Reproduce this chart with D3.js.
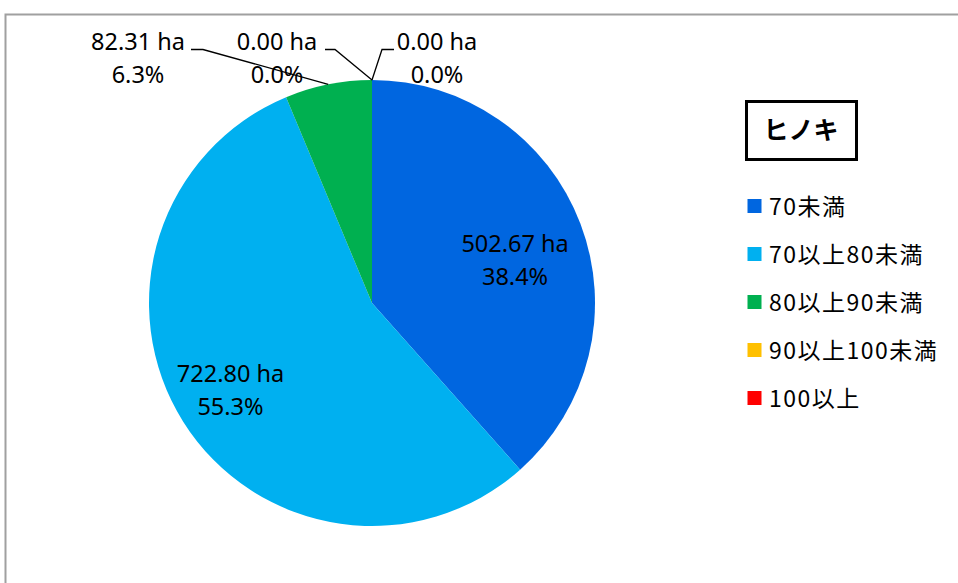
<!DOCTYPE html>
<html>
<head>
<meta charset="utf-8">
<script src="https://cdn.jsdelivr.net/npm/d3@7"></script>
<style>
  html, body { margin: 0; padding: 0; background: #fff; }
  svg { display: block; font-family: "Noto Sans", "Noto Sans CJK JP", sans-serif; }
</style>
</head>
<body>
<svg id="chart" width="958" height="583"></svg>
<script>
// Stand area of ヒノキ by class (ha)
const title = "ヒノキ";
const categories = ["70未満", "70以上80未満", "80以上90未満", "90以上100未満", "100以上"];
const areas = [502.67, 722.80, 82.31, 0.00, 0.00];
const colors = ["#0066E0", "#00B0F0", "#00B050", "#FFC000", "#FF0000"];

const svg = d3.select("#chart");
const W = 958, H = 583;

// Outer frame (extends past the right and bottom edges)
svg.append("rect")
  .attr("x", 5.5).attr("y", 14.5)
  .attr("width", W + 20).attr("height", H + 20)
  .attr("fill", "#fff").attr("stroke", "#a0a0a0").attr("stroke-width", 2);

const cx = 372, cy = 303, R = 223;
const total = d3.sum(areas);
const data = categories.map((c, i) => ({ cat: c, value: areas[i], color: colors[i], i }));

const pie = d3.pie().sort(null).value(d => d.value);
const arcs = pie(data);
const arc = d3.arc().innerRadius(0).outerRadius(R);

const g = svg.append("g").attr("transform", `translate(${cx},${cy})`);
g.selectAll("path.slice")
  .data(arcs.filter(a => a.data.value > 0))
  .join("path")
  .attr("class", "slice")
  .attr("d", arc)
  .attr("fill", d => d.data.color);

const fmtHa = d => d3.format(".2f")(d) + " ha";
const fmtPct = d => d3.format(".1f")(d / total * 100) + "%";

// Data label text centred on (x, y) baseline
function dataLabel(parent, x, y, str) {
  parent.append("text")
    .attr("x", x).attr("y", y)
    .attr("text-anchor", "middle")
    .attr("font-size", 23.5)
    .attr("fill", "#000")
    .text(str);
}

// point on the circle at a given pie angle
const onCircle = (ang, r) => [Math.sin(ang) * r, -Math.cos(ang) * r];

// Labels inside the large slices: radius factor and nudge of the two-line block
const inside = { 0: [0.66, 5.5, 17], 1: [0.76, 2, 5] };
arcs.filter(a => inside[a.data.i] !== undefined).forEach(a => {
  const mid = (a.startAngle + a.endAngle) / 2;
  const [f, nx, ny] = inside[a.data.i];
  const [x, y] = onCircle(mid, R * f);
  dataLabel(g, x + nx, y + ny - 16, fmtHa(a.data.value));
  dataLabel(g, x + nx, y + ny + 17, fmtPct(a.data.value));
});

// Labels outside the small slices, with leader lines
const outside = [
  { i: 2, tx: 138, a1: 191, a2: 203 },
  { i: 3, tx: 277, a1: 325, a2: 335 },
  { i: 4, tx: 437, a1: 394, a2: 382 }
];
outside.forEach(o => {
  const a = arcs[o.i];
  const mid = (a.startAngle + a.endAngle) / 2;
  const [px, py] = onCircle(mid, R);
  const ly = 49.5 - cy;
  g.append("path")
    .attr("d", d3.line()([[o.a1 - cx, ly], [o.a2 - cx, ly], [px, py]]))
    .attr("fill", "none").attr("stroke", "#000").attr("stroke-width", 1.3);
  dataLabel(g, o.tx - cx, 50 - cy, fmtHa(a.data.value));
  dataLabel(g, o.tx - cx, 83 - cy, fmtPct(a.data.value));
});

// Title box
svg.append("rect")
  .attr("x", 746.5).attr("y", 101.5).attr("width", 110).attr("height", 58)
  .attr("fill", "#fff").attr("stroke", "#000").attr("stroke-width", 3);
svg.append("text")
  .attr("x", 801).attr("y", 139)
  .attr("text-anchor", "middle").attr("font-size", 25).attr("font-weight", "bold")
  .attr("font-family", "'Noto Sans CJK JP', sans-serif")
  .text(title);

// Legend
const legendY = d3.scalePoint().domain(categories).range([206, 398]);
const lg = svg.append("g");
categories.forEach((c, i) => {
  const y = legendY(c);
  lg.append("rect").attr("x", 747.5).attr("y", y - 7).attr("width", 14).attr("height", 14).attr("fill", colors[i]);
  lg.append("text").attr("x", 769).attr("y", y + 8.5).attr("font-size", 23).attr("letter-spacing", 1.5)
    .attr("fill", "#000")
    .attr("font-family", "'Noto Sans CJK JP', sans-serif").text(c);
});
</script>
</body>
</html>
